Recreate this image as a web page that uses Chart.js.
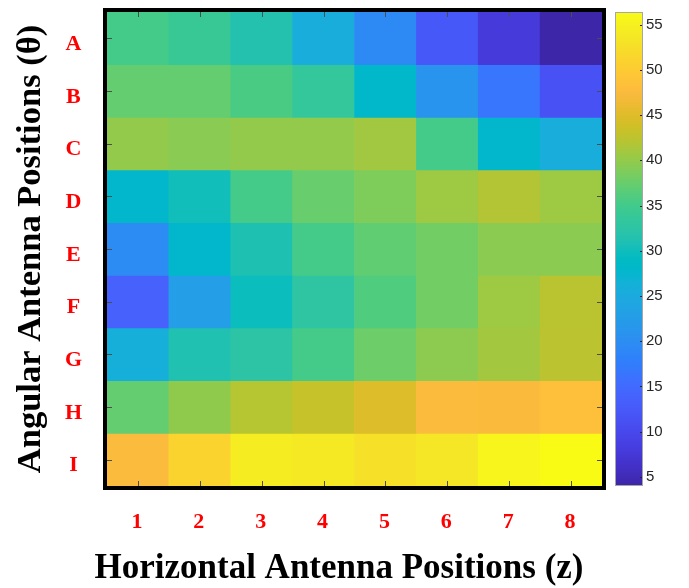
<!DOCTYPE html>
<html lang="en">
<head>
  <meta charset="UTF-8">
  <title>Antenna Positions Heatmap</title>
  <script src="https://cdn.jsdelivr.net/npm/chart.js"></script>
  <style>
    body { margin: 0; background: #fff; }
  </style>
</head>

<body>
  <canvas id="heatmap" width="689" height="588"></canvas>

  <script>
    // Eixos
    const columns = ['1', '2', '3', '4', '5', '6', '7', '8'];
    const rows = ['A', 'B', 'C', 'D', 'E', 'F', 'G', 'H', 'I'];

    // Valores de cada linha (lidos pela cor)
    const rowA = [35.2, 34.0, 31.5, 25.6, 19.4, 12.3, 7.9, 4.0];
    const rowB = [37.3, 37.2, 35.6, 33.5, 28.1, 21.0, 16.5, 11.5];
    const rowC = [40.0, 39.4, 40.0, 40.0, 40.8, 35.2, 28.0, 25.6];
    const rowD = [28.0, 30.2, 35.2, 37.5, 38.8, 40.6, 41.9, 40.6];
    const rowE = [19.8, 28.0, 31.0, 35.2, 37.0, 38.1, 39.5, 39.5];
    const rowF = [13.6, 22.7, 29.8, 32.7, 36.0, 38.1, 40.6, 42.3];
    const rowG = [25.9, 31.2, 32.5, 35.2, 37.8, 39.6, 40.9, 42.4];
    const rowH = [37.3, 39.8, 42.1, 43.1, 44.8, 47.7, 47.5, 48.3];
    const rowI = [47.7, 51.0, 54.3, 53.9, 52.7, 53.6, 55.6, 56.4];
    const values = [rowA, rowB, rowC, rowD, rowE, rowF, rowG, rowH, rowI];

    // Escala de cor
    const cMin = 4.0;
    const cMax = 56.4;
    const colorTicks = [5, 10, 15, 20, 25, 30, 35, 40, 45, 50, 55];

    // parula (64)
    const PARULA = [
      [0.2422,0.1504,0.6603],[0.2504,0.1650,0.7076],[0.2578,0.1818,0.7511],[0.2647,0.1978,0.7952],
      [0.2706,0.2147,0.8364],[0.2751,0.2342,0.8710],[0.2783,0.2559,0.8991],[0.2803,0.2782,0.9221],
      [0.2813,0.3006,0.9414],[0.2810,0.3228,0.9579],[0.2795,0.3447,0.9717],[0.2760,0.3667,0.9829],
      [0.2699,0.3892,0.9906],[0.2602,0.4123,0.9952],[0.2440,0.4358,0.9988],[0.2206,0.4603,0.9973],
      [0.1963,0.4847,0.9892],[0.1834,0.5074,0.9798],[0.1786,0.5289,0.9682],[0.1764,0.5499,0.9520],
      [0.1687,0.5703,0.9359],[0.1540,0.5902,0.9218],[0.1460,0.6091,0.9079],[0.1380,0.6276,0.8973],
      [0.1248,0.6459,0.8883],[0.1113,0.6635,0.8763],[0.0952,0.6798,0.8598],[0.0689,0.6948,0.8394],
      [0.0297,0.7082,0.8163],[0.0036,0.7203,0.7917],[0.0067,0.7312,0.7660],[0.0433,0.7411,0.7394],
      [0.0964,0.7500,0.7120],[0.1408,0.7584,0.6842],[0.1717,0.7670,0.6554],[0.1938,0.7758,0.6251],
      [0.2161,0.7843,0.5923],[0.2470,0.7918,0.5567],[0.2906,0.7973,0.5188],[0.3406,0.8008,0.4789],
      [0.3909,0.8029,0.4354],[0.4456,0.8024,0.3909],[0.5044,0.7993,0.3480],[0.5616,0.7942,0.3045],
      [0.6174,0.7876,0.2612],[0.6720,0.7793,0.2227],[0.7242,0.7698,0.1910],[0.7738,0.7598,0.1646],
      [0.8203,0.7498,0.1535],[0.8634,0.7406,0.1596],[0.9035,0.7330,0.1774],[0.9393,0.7288,0.2100],
      [0.9728,0.7298,0.2394],[0.9956,0.7434,0.2371],[0.9970,0.7659,0.2199],[0.9952,0.7893,0.2028],
      [0.9892,0.8136,0.1885],[0.9786,0.8386,0.1766],[0.9676,0.8639,0.1643],[0.9610,0.8890,0.1537],
      [0.9597,0.9135,0.1423],[0.9628,0.9373,0.1265],[0.9691,0.9606,0.1064],[0.9769,0.9839,0.0805]
    ];

    function rgbOf(c) {
      return 'rgb(' + c.map(v => Math.round(v * 255)).join(',') + ')';
    }

    function parula(v) {
      let t = (v - cMin) / (cMax - cMin);
      t = Math.min(1, Math.max(0, t)) * 63;
      const i = Math.min(62, Math.floor(t));
      const f = t - i;
      const a = PARULA[i], b = PARULA[i + 1];
      return rgbOf([0, 1, 2].map(k => a[k] + (b[k] - a[k]) * f));
    }

    const serif = "'Liberation Serif', 'Times New Roman', serif";

    // moldura preta, marcas internas e barra de cores
    const framePlugin = {
      id: 'frame',
      afterDatasetsDraw(chart) {
        const { ctx, chartArea: a, scales } = chart;
        ctx.save();
        ctx.strokeStyle = '#4d4d4d';
        ctx.lineWidth = 1;
        ctx.beginPath();
        columns.forEach((c, i) => {
          const x = Math.round(scales.x.getPixelForTick(i)) + 0.5;
          ctx.moveTo(x, a.top); ctx.lineTo(x, a.top + 5);
          ctx.moveTo(x, a.bottom); ctx.lineTo(x, a.bottom - 5);
        });
        scales.y.ticks.forEach((t, i) => {
          const y = Math.round(scales.y.getPixelForTick(i)) + 0.5;
          ctx.moveTo(a.left, y); ctx.lineTo(a.left + 5, y);
          ctx.moveTo(a.right, y); ctx.lineTo(a.right - 5, y);
        });
        ctx.stroke();
        ctx.strokeStyle = '#000';
        ctx.lineWidth = 4;
        ctx.strokeRect(a.left - 2, a.top - 2, a.width + 4, a.height + 4);

        // barra de cores na escala 'cb'
        const cb = scales.cb;
        const yTop = cb.getPixelForValue(cMax);
        const yBot = cb.getPixelForValue(cMin);
        const x0 = a.right + 13, w = 28;
        const g = ctx.createLinearGradient(0, yBot, 0, yTop);
        PARULA.forEach((c, i) => g.addColorStop(i / 63, rgbOf(c)));
        ctx.fillStyle = g;
        ctx.fillRect(x0, yTop, w, yBot - yTop);
        ctx.strokeStyle = '#262626';
        ctx.lineWidth = 1;
        ctx.beginPath();
        cb.ticks.forEach((t, i) => {
          const y = Math.round(cb.getPixelForTick(i)) + 0.5;
          ctx.moveTo(x0 + w, y); ctx.lineTo(x0 + w - 3, y);
        });
        ctx.stroke();
        ctx.strokeStyle = '#a6a6a6';
        ctx.strokeRect(x0 + 0.5, Math.round(yTop) + 0.5, w - 1, Math.round(yBot - yTop) - 1);
        ctx.restore();
      }
    };

    new Chart(document.getElementById('heatmap'), {
      type: 'bar',
      data: {
        labels: columns,
        datasets: rows.map((r, ri) => ({
          label: r,
          data: columns.map(() => 1),
          backgroundColor: values[ri].map(parula),
          borderWidth: 0,
          barPercentage: 1,
          categoryPercentage: 1
        }))
      },
      options: {
        responsive: false,
        animation: false,
        layout: { padding: { left: -11, right: 0, top: 12, bottom: 0 } },
        plugins: {
          legend: { display: false },
          title: {
            display: true,
            position: 'bottom',
            text: 'Horizontal Antenna Positions (z)',
            color: '#000',
            font: { family: serif, size: 35, weight: 'bold', lineHeight: 1.1 },
            padding: { top: 0, bottom: 0 }
          },
          tooltip: {
            callbacks: {
              title: items => rows[items[0].datasetIndex] + items[0].label,
              label: item => values[item.datasetIndex][item.dataIndex].toFixed(1)
            }
          }
        },
        scales: {
          x: {
            stacked: true,
            grid: { display: false, drawTicks: false },
            border: { display: false },
            afterFit: s => { s.height = 63.5; s.paddingLeft = 0; s.paddingRight = 0; },
            ticks: {
              color: '#ff0000',
              font: { family: serif, size: 22, weight: 'bold' },
              padding: 23,
              labelOffset: -1
            }
          },
          y: {
            stacked: true,
            reverse: true,
            min: 0,
            max: 9,
            afterBuildTicks: s => { s.ticks = rows.map((r, i) => ({ value: i + 0.5 })); },
            afterFit: s => { s.width = 118; s.paddingTop = 0; s.paddingBottom = 0; },
            grid: { display: false, drawTicks: false },
            border: { display: false },
            ticks: {
              color: '#ff0000',
              font: { family: serif, size: 22, weight: 'bold' },
              crossAlign: 'center',
              padding: 25,
              labelOffset: 6,
              callback: (v, i) => rows[i]
            },
            title: {
              display: true,
              text: 'Angular Antenna Positions (θ)',
              color: '#000',
              font: { family: serif, size: 34.5, weight: 'bold' },
              padding: { top: 21, bottom: 0 }
            }
          },
          cb: {
            type: 'linear',
            position: 'right',
            min: cMin,
            max: cMax,
            afterBuildTicks: s => { s.ticks = colorTicks.map(v => ({ value: v })); },
            afterFit: s => { s.width = 87; s.paddingTop = 0; s.paddingBottom = 0; },
            grid: { display: false, drawTicks: false },
            border: { display: false },
            ticks: {
              color: '#262626',
              font: { family: "'Liberation Sans', Arial, sans-serif", size: 15 },
              padding: 44
            }
          }
        }
      },
      plugins: [framePlugin]
    });
  </script>
</body>
</html>
